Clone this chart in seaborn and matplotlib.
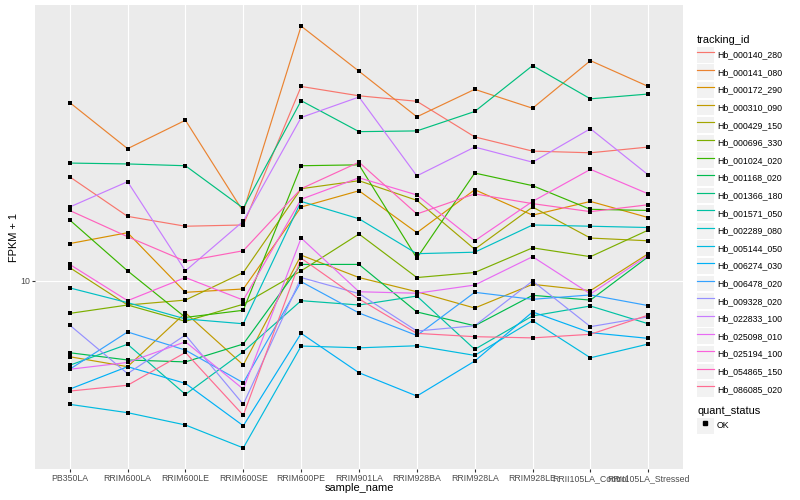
import numpy as np
import pandas as pd
import matplotlib
matplotlib.use("Agg")
import matplotlib.pyplot as plt
import seaborn as sns
from matplotlib.lines import Line2D
from matplotlib.patches import Rectangle
from matplotlib.legend_handler import HandlerLine2D
from matplotlib.ticker import FixedLocator, FixedFormatter, NullLocator

samples = ["PB350LA", "RRIM600LA", "RRIM600LE", "RRIM600SE", "RRIM600PE",
           "RRIM901LA", "RRIM928BA", "RRIM928LA", "RRIM928LE",
           "RRII105LA_Control", "RRII105LA_Stressed"]

tracking_ids = ["Hb_000140_280", "Hb_000141_080", "Hb_000172_290", "Hb_000310_090",
                "Hb_000429_150", "Hb_000696_330", "Hb_001024_020", "Hb_001168_020",
                "Hb_001366_180", "Hb_001571_050", "Hb_002289_080", "Hb_005144_050",
                "Hb_006274_030", "Hb_006478_020", "Hb_009328_020", "Hb_022833_100",
                "Hb_025098_010", "Hb_025194_100", "Hb_054865_150", "Hb_086085_020"]

# ggplot default hue palette for 20 levels
colors = ["#F8766D", "#EA8331", "#D89000", "#C09B00", "#A3A500", "#7CAE00", "#39B600",
          "#00BB4E", "#00BF7D", "#00C1A3", "#00BFC4", "#00BAE0", "#00B0F6", "#35A2FF",
          "#9590FF", "#C77CFF", "#E76BF3", "#FA62DB", "#FF62BC", "#FF6C91"]

# FPKM + 1, one list per gene, in sample order
hb_000140_280 = [18.2, 14.5, 13.7, 13.8, 30.6, 29.0, 28.1, 22.9, 21.1, 20.9, 21.6]
hb_000141_080 = [27.9, 21.4, 25.2, 14.9, 43.3, 33.4, 25.7, 30.1, 27.0, 35.5, 30.6]
hb_000172_290 = [12.4, 13.2, 9.37, 9.55, 15.3, 16.8, 13.2, 16.9, 14.6, 15.8, 14.4]
hb_000310_090 = [6.47, 6.11, 8.33, 6.17, 11.6, 10.2, 9.40, 8.56, 9.81, 9.46, 11.7]
hb_000429_150 = [10.8, 8.71, 8.96, 10.5, 17.0, 17.8, 15.9, 12.0, 15.3, 12.8, 12.6]
hb_000696_330 = [8.30, 8.71, 7.93, 8.75, 10.6, 13.1, 10.2, 10.5, 12.1, 11.5, 13.4]
hb_001024_020 = [14.2, 10.6, 8.11, 8.45, 19.4, 19.5, 11.4, 18.6, 17.3, 15.1, 15.0]
hb_001168_020 = [6.62, 6.35, 6.28, 6.96, 11.0, 11.0, 8.37, 7.73, 9.21, 8.96, 11.5]
hb_001366_180 = [19.7, 19.6, 19.4, 15.2, 28.2, 23.6, 23.7, 26.5, 34.5, 28.5, 29.3]
hb_001571_050 = [6.16, 6.95, 5.21, 6.66, 8.93, 8.71, 9.17, 6.75, 8.18, 8.66, 7.82]
hb_002289_080 = [9.61, 8.83, 8.04, 7.82, 15.8, 14.3, 11.7, 11.8, 13.8, 13.7, 13.6]
hb_005144_050 = [4.92, 4.69, 4.37, 3.83, 6.88, 6.81, 6.89, 6.52, 7.96, 6.43, 6.96]
hb_006274_030 = [5.37, 6.11, 5.55, 4.35, 7.40, 5.90, 5.16, 6.31, 8.37, 7.43, 7.19]
hb_006478_020 = [6.02, 7.46, 6.72, 5.57, 9.96, 8.32, 7.31, 9.37, 9.00, 9.23, 8.68]
hb_009328_020 = [7.76, 5.87, 7.33, 4.92, 10.2, 9.30, 7.50, 7.73, 10.0, 7.69, 8.14]
hb_022833_100 = [15.3, 17.7, 10.6, 14.1, 25.6, 28.8, 18.3, 21.6, 19.8, 24.0, 18.4]
hb_025098_010 = [6.02, 6.26, 7.05, 5.37, 12.8, 9.40, 9.32, 9.77, 11.5, 9.28, 11.6]
hb_025194_100 = [11.0, 8.93, 10.2, 8.96, 16.0, 18.1, 16.4, 12.6, 15.8, 19.0, 16.5]
hb_054865_150 = [15.0, 12.9, 11.2, 11.9, 17.0, 19.8, 14.7, 16.5, 15.6, 14.9, 15.5]
hb_086085_020 = [5.31, 5.49, 6.63, 4.62, 11.4, 9.02, 7.40, 7.26, 7.21, 7.36, 8.22]

series = [hb_000140_280, hb_000141_080, hb_000172_290, hb_000310_090, hb_000429_150,
          hb_000696_330, hb_001024_020, hb_001168_020, hb_001366_180, hb_001571_050,
          hb_002289_080, hb_005144_050, hb_006274_030, hb_006478_020, hb_009328_020,
          hb_022833_100, hb_025098_010, hb_025194_100, hb_054865_150, hb_086085_020]

rows = []
for tid, vals in zip(tracking_ids, series):
    for i, (s, v) in enumerate(zip(samples, vals)):
        rows.append({"tracking_id": tid, "sample_name": s, "pos": i, "fpkm": v, "quant_status": "OK"})
data = pd.DataFrame(rows)

plt.rcParams["font.family"] = ["Liberation Sans", "DejaVu Sans"]

fig = plt.figure(figsize=(8, 5), dpi=100)
ax = fig.add_axes([35 / 800, 1 - 469 / 500, 648 / 800, 464 / 500])
ax.set_facecolor("#EBEBEB")

sns.lineplot(data=data, x="pos", y="fpkm", hue="tracking_id", hue_order=tracking_ids,
             palette=colors, sort=False, estimator=None, linewidth=0.85, legend=False, ax=ax)
sns.scatterplot(data=data, x="pos", y="fpkm", color="black", marker="s", s=7,
                linewidth=0, legend=False, ax=ax, zorder=5)

ax.set_yscale("log")
lo, hi = np.log10(data["fpkm"].min()), np.log10(data["fpkm"].max())
pad = 0.05 * (hi - lo)
ax.set_ylim(10 ** (lo - pad), 10 ** (hi + pad))
ax.set_xlim(-0.6, len(samples) - 0.4)
ax.yaxis.set_major_locator(FixedLocator([10]))
ax.yaxis.set_major_formatter(FixedFormatter(["10"]))
ax.yaxis.set_minor_locator(NullLocator())
ax.set_xticks(range(len(samples)))
ax.set_xticklabels(samples)

ax.grid(True, which="major", color="white", linewidth=0.8)
ax.set_axisbelow(True)
for sp in ax.spines.values():
    sp.set_visible(False)
ax.tick_params(axis="both", length=2.2, width=0.8, color="#333333",
               labelsize=6.3, labelcolor="#4D4D4D", pad=1.5)
ax.set_xlabel("sample_name", fontsize=7.9, labelpad=0)
ax.set_ylabel("FPKM + 1", fontsize=7.9, labelpad=1)


class KeyHandler(HandlerLine2D):
    # grey key background like ggplot legends
    def create_artists(self, legend, orig_handle, xdescent, ydescent, width, height, fontsize, trans):
        bg = Rectangle((-xdescent, -ydescent), width, height, facecolor="#F2F2F2",
                       edgecolor="none", transform=trans)
        arts = super().create_artists(legend, orig_handle, xdescent, ydescent,
                                      width, height, fontsize, trans)
        return [bg] + list(arts)


legend_kw = dict(loc="upper left", frameon=False, fontsize=6.3, title_fontsize=7.9,
                 handlelength=1.94, handleheight=2.41, labelspacing=0.2,
                 handletextpad=0.35, borderpad=0, borderaxespad=0, alignment="left",
                 handler_map={Line2D: KeyHandler()})

handles = [Line2D([], [], color=c, linewidth=0.85) for c in colors]
leg1 = fig.legend(handles, tracking_ids, title="tracking_id",
                  bbox_to_anchor=(697 / 800, 1 - 35 / 500), **legend_kw)

ok = Line2D([], [], linestyle="none", marker="s", color="black", markersize=2.6)
leg2 = fig.legend([ok], ["OK"], title="quant_status",
                  bbox_to_anchor=(697 / 800, 1 - 406 / 500), **legend_kw)

fig.savefig("out.png", dpi=100)
